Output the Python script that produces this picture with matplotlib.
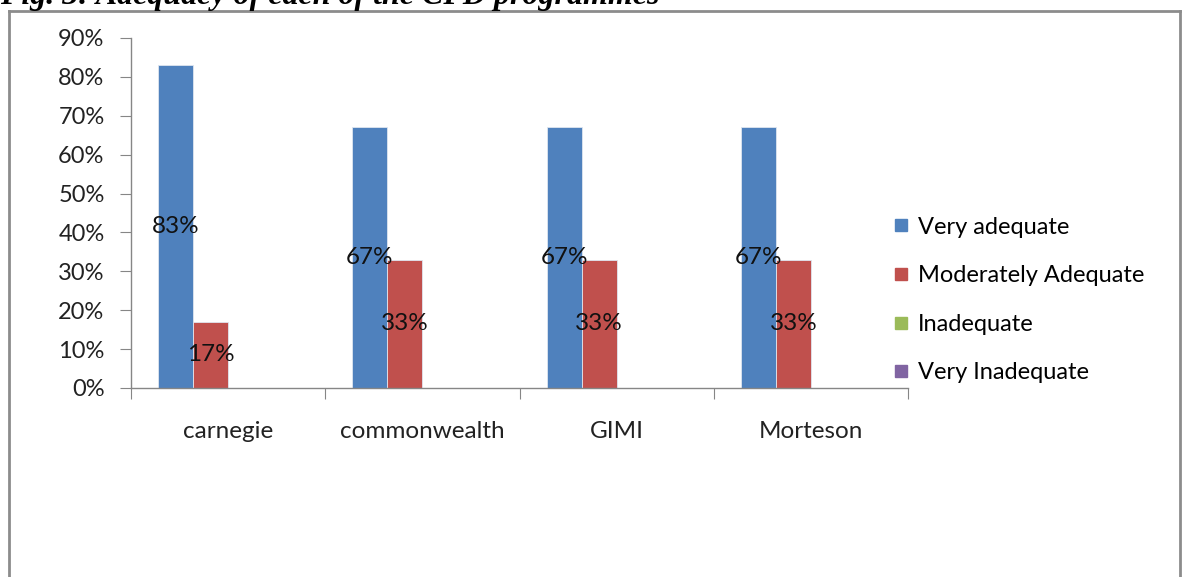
import matplotlib.pyplot as plt
import numpy as np
from matplotlib.lines import Line2D

plt.rcParams["font.family"] = ["Lato", "DejaVu Sans"]

programmes = ["carnegie", "commonwealth", "GIMI", "Morteson"]
series = ["Very adequate", "Moderately Adequate", "Inadequate", "Very Inadequate"]
very_adequate = [0.83, 0.67, 0.67, 0.67]
moderately_adequate = [0.17, 0.33, 0.33, 0.33]
inadequate = [0.0, 0.0, 0.0, 0.0]
very_inadequate = [0.0, 0.0, 0.0, 0.0]
yticks = [0.0, 0.1, 0.2, 0.3, 0.4, 0.5, 0.6, 0.7, 0.8, 0.9]
title = "Fig. 3: Adequacy of each of the CPD programmes"

colors = ["#4F81BD", "#C0504D", "#9BBB59", "#8064A2"]
values = [very_adequate, moderately_adequate, inadequate, very_inadequate]

fig = plt.figure(figsize=(11.87, 5.77), dpi=100)
ax = fig.add_axes([131 / 1187, 1 - 388 / 577, 777 / 1187, 350 / 577])

x = np.arange(len(programmes)) + 0.5
width = 0.18
for i, (name, vals, c) in enumerate(zip(series, values, colors)):
    pos = x + (i - 1.5) * width
    ax.bar(pos, vals, width, color=c, edgecolor="#dfe6f0", linewidth=0.6, label=name)
    for p, v in zip(pos, vals):
        if v > 0:
            ax.text(p, v / 2, f"{v * 100:.0f}%", ha="center", va="center",
                    fontsize=17.5, color="#111111")

ax.set_xlim(0, len(programmes))
ax.set_ylim(0, 0.9)
ax.set_yticks(yticks)
ax.set_yticklabels([f"{t * 100:.0f}%" for t in yticks], fontsize=17, color="#222222")
ax.set_xticks(np.arange(len(programmes) + 1))
ax.set_xticklabels([])
ax.set_xticks(x, minor=True)
ax.set_xticklabels(programmes, minor=True, fontsize=17.5, color="#222222")
ax.tick_params(axis="x", which="major", length=8, color="#868686", direction="out")
ax.tick_params(axis="x", which="minor", length=0, pad=24)
ax.tick_params(axis="y", length=8, color="#868686", pad=11)

for side in ["top", "right"]:
    ax.spines[side].set_visible(False)
for side in ["left", "bottom"]:
    ax.spines[side].set_color("#868686")
    ax.spines[side].set_linewidth(1.0)

handles = [Line2D([], [], marker="s", linestyle="none", markersize=9,
                  markerfacecolor=c, markeredgecolor=c) for c in colors]
fig.legend(handles, series, loc="center left", bbox_to_anchor=(894 / 1187, 1 - 300 / 577),
           frameon=False, fontsize=17, labelspacing=1.17, handlelength=0.6,
           handletextpad=0.4, borderpad=0, borderaxespad=0)

# outer frame
frame_color = "#8c8c8c"
fl, fr, ft = 9 / 1187, 1180 / 1187, 1 - 11 / 577
fig.add_artist(Line2D([fl, fr], [ft, ft], color=frame_color, lw=2.0, transform=fig.transFigure))
fig.add_artist(Line2D([fl, fl], [ft, 0], color=frame_color, lw=2.0, transform=fig.transFigure))
fig.add_artist(Line2D([fr, fr], [ft, 0], color=frame_color, lw=2.0, transform=fig.transFigure))

fig.text(0, 1 - 4 / 577, title, family="Liberation Serif", fontweight="bold",
         fontstyle="italic", fontsize=23, ha="left", va="baseline", color="black")

fig.savefig("out.png", dpi=100)
